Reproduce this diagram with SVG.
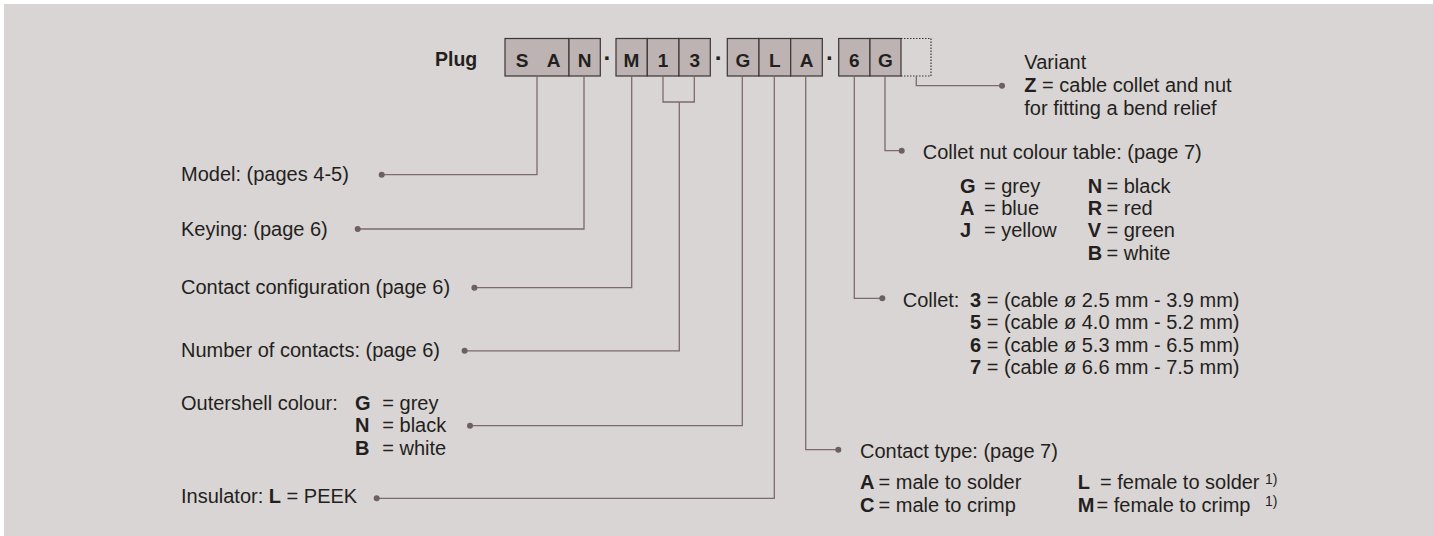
<svg xmlns="http://www.w3.org/2000/svg" width="1433" height="536" viewBox="0 0 1433 536">
<style>
  .t { font-family: "Liberation Sans", Arial, Helvetica, sans-serif; font-size: 20px; fill: #231f20; }
  .b { font-weight: bold; }
  .sup { font-size: 14px; }
  .cell { fill: #bdb3b2; stroke: #3b3536; stroke-width: 1.2; }
  .cl { font-family: "Liberation Sans", Arial, Helvetica, sans-serif; font-size: 19px; font-weight: bold; fill: #231f20; text-anchor: middle; }
  .sep { font-family: "Liberation Sans", Arial, Helvetica, sans-serif; font-size: 24px; font-weight: bold; fill: #231f20; text-anchor: middle; }
  .conn { fill: none; stroke: #7c6a6c; stroke-width: 1.3; }
  .dot { fill: #6e5f60; }
</style>
<rect x="0" y="0" width="1433" height="536" fill="#ffffff"/>
<rect x="4" y="4" width="1429" height="532" fill="#d9d5d4"/>

<g id="plug-code">
  <text class="t b" x="435" y="66" style="font-size:19.5px">Plug</text>
  <rect class="cell" x="505" y="38.5" width="64" height="37.5"/>
  <rect class="cell" x="569" y="38.5" width="31.3" height="37.5"/>
  <rect class="cell" x="616" y="38.5" width="31.3" height="37.5"/>
  <rect class="cell" x="647.3" y="38.5" width="31.7" height="37.5"/>
  <rect class="cell" x="679" y="38.5" width="31.3" height="37.5"/>
  <rect class="cell" x="727.3" y="38.5" width="31.7" height="37.5"/>
  <rect class="cell" x="759" y="38.5" width="31.7" height="37.5"/>
  <rect class="cell" x="790.7" y="38.5" width="31.6" height="37.5"/>
  <rect class="cell" x="838.7" y="38.5" width="31.3" height="37.5"/>
  <rect class="cell" x="870" y="38.5" width="31" height="37.5"/>
  <path d="M901,38.5 H931 V76 H901" fill="none" stroke="#3b3536" stroke-width="1.2" stroke-dasharray="1.5 1.5"/>
  <text class="cl" x="522" y="66.7">S</text>
  <text class="cl" x="553.5" y="66.7">A</text>
  <text class="cl" x="584.7" y="66.7">N</text>
  <text class="sep" x="607.5" y="65.5">·</text>
  <text class="cl" x="631.5" y="66.7">M</text>
  <text class="cl" x="663" y="66.7">1</text>
  <text class="cl" x="694.7" y="66.7">3</text>
  <text class="sep" x="718.7" y="65.5">·</text>
  <text class="cl" x="743" y="66.7">G</text>
  <text class="cl" x="774.8" y="66.7">L</text>
  <text class="cl" x="806.5" y="66.7">A</text>
  <text class="sep" x="830" y="65.5">·</text>
  <text class="cl" x="854.3" y="66.7">6</text>
  <text class="cl" x="885.5" y="66.7">G</text>
</g>

<g id="connectors">
  <path class="conn" d="M537,76 V174.7 H381.7"/>
  <circle class="dot" cx="381.7" cy="174.7" r="3"/>
  <path class="conn" d="M584,76 V229 H357.7"/>
  <circle class="dot" cx="357.7" cy="229" r="3"/>
  <path class="conn" d="M631.7,76 V287.7 H474.4"/>
  <circle class="dot" cx="474.4" cy="287.7" r="3"/>
  <path class="conn" d="M663,76 V102 H694.3 V76 M679.3,102 V350.8 H464.6"/>
  <circle class="dot" cx="464.6" cy="350.8" r="3"/>
  <path class="conn" d="M742.3,76 V425.7 H470"/>
  <circle class="dot" cx="470" cy="425.7" r="3"/>
  <path class="conn" d="M774.3,76 V498.3 H376.7"/>
  <circle class="dot" cx="376.7" cy="498.3" r="3"/>
  <path class="conn" d="M805.7,76 V449.7 H838.3"/>
  <circle class="dot" cx="838.3" cy="449.7" r="3"/>
  <path class="conn" d="M854.3,76 V298.3 H882.3"/>
  <circle class="dot" cx="882.3" cy="298.3" r="3"/>
  <path class="conn" d="M885,76 V150.7 H901.7"/>
  <circle class="dot" cx="901.7" cy="150.7" r="3"/>
  <path class="conn" d="M916.3,76 V85.7 H1002"/>
  <circle class="dot" cx="1002" cy="85.7" r="3"/>
</g>

<g id="model">
  <text class="t" x="181" y="180.5">Model: (pages 4-5)</text>
</g>
<g id="keying">
  <text class="t" x="181" y="235.5">Keying: (page 6)</text>
</g>
<g id="contact-configuration">
  <text class="t" x="181" y="294">Contact configuration (page 6)</text>
</g>
<g id="number-of-contacts">
  <text class="t" x="181" y="357">Number of contacts: (page 6)</text>
</g>
<g id="outershell-colour">
  <text class="t" x="181" y="410">Outershell colour:</text>
  <text class="t b" x="355" y="410">G</text><text class="t" x="382.3" y="410">= grey</text>
  <text class="t b" x="355" y="432.3">N</text><text class="t" x="382.3" y="432.3">= black</text>
  <text class="t b" x="355" y="454.7">B</text><text class="t" x="382.3" y="454.7">= white</text>
</g>
<g id="insulator">
  <text class="t" x="181" y="503.3">Insulator: <tspan class="b">L</tspan> = PEEK</text>
</g>

<g id="variant">
  <text class="t" x="1024.3" y="69.3">Variant</text>
  <text class="t" x="1024.3" y="92.3"><tspan class="b">Z</tspan> = cable collet and nut</text>
  <text class="t" x="1024.3" y="115">for fitting a bend relief</text>
</g>

<g id="collet-nut-colour">
  <text class="t" x="922.7" y="159">Collet nut colour table: (page 7)</text>
  <text class="t b" x="960" y="192.7">G</text><text class="t" x="984" y="192.7">= grey</text>
  <text class="t b" x="960" y="215">A</text><text class="t" x="984" y="215">= blue</text>
  <text class="t b" x="960" y="237.3">J</text><text class="t" x="984" y="237.3">= yellow</text>
  <text class="t b" x="1087.7" y="192.7">N</text><text class="t" x="1106.5" y="192.7">= black</text>
  <text class="t b" x="1087.7" y="215">R</text><text class="t" x="1106.5" y="215">= red</text>
  <text class="t b" x="1087.7" y="237.3">V</text><text class="t" x="1106.5" y="237.3">= green</text>
  <text class="t b" x="1087.7" y="260">B</text><text class="t" x="1106.5" y="260">= white</text>
</g>

<g id="collet">
  <text class="t" x="902.7" y="306.7">Collet:</text>
  <text class="t b" x="970" y="306.7">3</text><text class="t" x="986.7" y="306.7">= (cable ø 2.5 mm - 3.9 mm)</text>
  <text class="t b" x="970" y="329">5</text><text class="t" x="986.7" y="329">= (cable ø 4.0 mm - 5.2 mm)</text>
  <text class="t b" x="970" y="351.7">6</text><text class="t" x="986.7" y="351.7">= (cable ø 5.3 mm - 6.5 mm)</text>
  <text class="t b" x="970" y="374">7</text><text class="t" x="986.7" y="374">= (cable ø 6.6 mm - 7.5 mm)</text>
</g>

<g id="contact-type">
  <text class="t" x="860" y="458">Contact type: (page 7)</text>
  <text class="t b" x="860" y="489.3">A</text><text class="t" x="878.5" y="489.3">= male to solder</text>
  <text class="t b" x="860" y="511.7">C</text><text class="t" x="878.5" y="511.7">= male to crimp</text>
  <text class="t b" x="1077.7" y="489.3">L</text><text class="t" x="1100" y="489.3">= female to solder</text>
  <text class="t sup" x="1265" y="483.5">1)</text>
  <text class="t b" x="1077.7" y="511.7">M</text><text class="t" x="1096.5" y="511.7">= female to crimp</text>
  <text class="t sup" x="1265" y="506">1)</text>
</g>
</svg>
